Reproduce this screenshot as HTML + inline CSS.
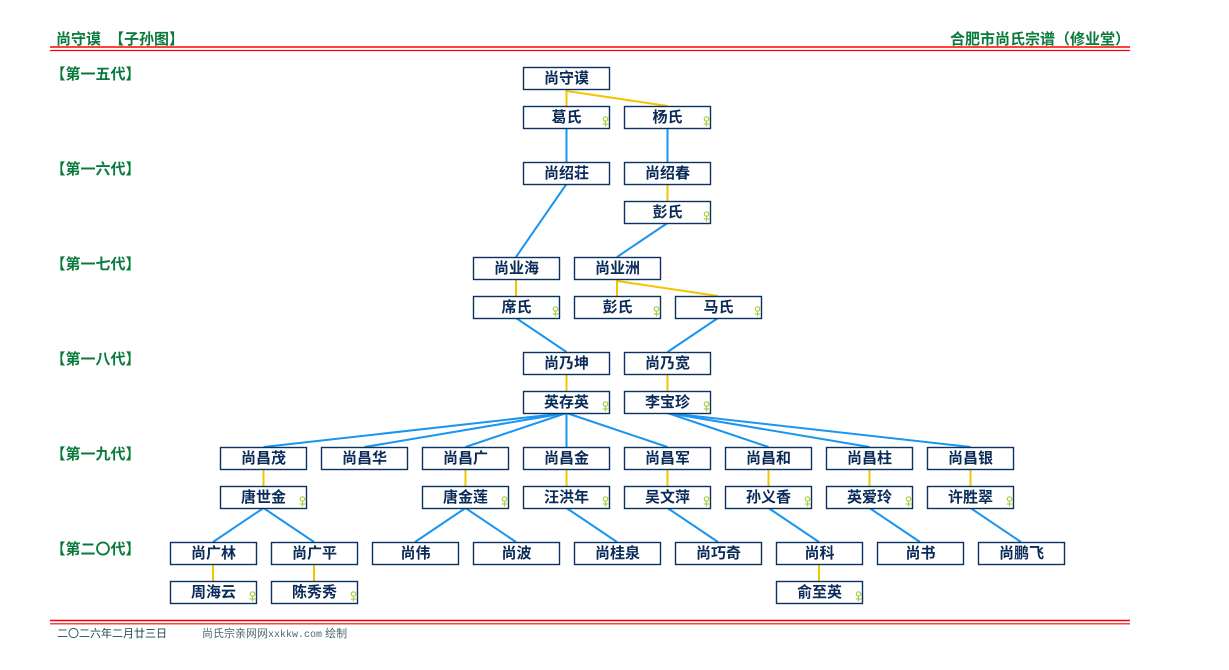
<!DOCTYPE html>
<html><head><meta charset="utf-8"><style>
html,body{margin:0;padding:0;background:#fff;}
svg{display:block;}
.nb{fill:#fff;stroke:#0a3160;stroke-width:1.4;}
.nt{font-family:"Liberation Sans","Noto Sans CJK SC",sans-serif;font-size:15px;font-weight:bold;fill:#0a2a58;text-anchor:middle;}
.gl{font-family:"Liberation Sans","Noto Sans CJK SC",sans-serif;font-size:15px;font-weight:bold;fill:#0a7a3c;text-anchor:middle;}
.hd{font-family:"Liberation Sans","Noto Sans CJK SC",sans-serif;font-size:15px;font-weight:bold;fill:#0a7a3c;}
.b{stroke:#1a96f0;stroke-width:2;fill:none;}
.y{stroke:#f5c400;stroke-width:2;fill:none;}
.fm{stroke:#a8d040;stroke-width:1.2;fill:none;}
</style></head><body>
<svg width="1229" height="670" viewBox="0 0 1229 670" xmlns="http://www.w3.org/2000/svg">
<!-- header -->
<text class="hd" x="56" y="44">尚守谟</text>
<text class="hd" x="109" y="44">【子孙图】</text>
<text class="hd" x="950" y="44">合肥市尚氏宗谱（修业堂）</text>
<line x1="50" y1="47" x2="1130" y2="47" stroke="#ff0000" stroke-width="1.5"/>
<line x1="50" y1="50.5" x2="1130" y2="50.5" stroke="#ff0000" stroke-width="1.2"/>
<!-- footer -->
<line x1="50" y1="620.5" x2="1130" y2="620.5" stroke="#ff0000" stroke-width="1.5"/>
<line x1="50" y1="623.8" x2="1130" y2="623.8" stroke="#ff0000" stroke-width="1.2"/>
<text x="57" y="637" font-family="Liberation Sans,Noto Sans CJK SC,sans-serif" font-size="11" fill="#1d4a40">二〇二六年二月廿三日</text>
<text x="202" y="637" font-family="Liberation Sans,Noto Sans CJK SC,sans-serif" font-size="11" fill="#4d6a70">尚氏宗亲网网<tspan font-family="Liberation Mono,monospace" font-size="10">xxkkw.com</tspan> 绘制</text>

<!-- generation labels -->
<text class="gl" x="95.5" y="79">【第一五代】</text>
<text class="gl" x="95.5" y="174">【第一六代】</text>
<text class="gl" x="95.5" y="269">【第一七代】</text>
<text class="gl" x="95.5" y="364">【第一八代】</text>
<text class="gl" x="95.5" y="459">【第一九代】</text>
<text class="gl" x="95.5" y="554">【第二〇代】</text>

<!-- connectors -->
<g>
<line class="y" x1="566.5" y1="89" x2="566.5" y2="106"/>
<polyline class="y" points="566.5,89 566.5,91 667.5,106"/>
<line class="b" x1="566.5" y1="128" x2="566.5" y2="162"/>
<line class="b" x1="667.5" y1="128" x2="667.5" y2="162"/>
<line class="y" x1="667.5" y1="184" x2="667.5" y2="201"/>
<line class="b" x1="566.5" y1="184" x2="516" y2="257"/>
<line class="b" x1="667.5" y1="223" x2="617" y2="257"/>
<line class="y" x1="516" y1="279" x2="516" y2="296"/>
<line class="y" x1="617" y1="279" x2="617" y2="296"/>
<polyline class="y" points="617,279 617,281 718,296"/>
<line class="b" x1="516" y1="318" x2="566.5" y2="352"/>
<line class="b" x1="718" y1="318" x2="667.5" y2="352"/>
<line class="y" x1="566.5" y1="374" x2="566.5" y2="391"/>
<line class="y" x1="667.5" y1="374" x2="667.5" y2="391"/>
<line class="b" x1="566.5" y1="413" x2="263.5" y2="447"/>
<line class="b" x1="566.5" y1="413" x2="364.5" y2="447"/>
<line class="b" x1="566.5" y1="413" x2="465.5" y2="447"/>
<line class="b" x1="566.5" y1="413" x2="566.5" y2="447"/>
<line class="b" x1="566.5" y1="413" x2="667.5" y2="447"/>
<line class="b" x1="667.5" y1="413" x2="768.5" y2="447"/>
<line class="b" x1="667.5" y1="413" x2="869.5" y2="447"/>
<line class="b" x1="667.5" y1="413" x2="970.5" y2="447"/>
<line class="y" x1="263.5" y1="469" x2="263.5" y2="486"/>
<line class="y" x1="465.5" y1="469" x2="465.5" y2="486"/>
<line class="y" x1="566.5" y1="469" x2="566.5" y2="486"/>
<line class="y" x1="667.5" y1="469" x2="667.5" y2="486"/>
<line class="y" x1="768.5" y1="469" x2="768.5" y2="486"/>
<line class="y" x1="869.5" y1="469" x2="869.5" y2="486"/>
<line class="y" x1="970.5" y1="469" x2="970.5" y2="486"/>
<line class="b" x1="263.5" y1="508" x2="213" y2="542"/>
<line class="b" x1="263.5" y1="508" x2="314" y2="542"/>
<line class="b" x1="465.5" y1="508" x2="415" y2="542"/>
<line class="b" x1="465.5" y1="508" x2="516" y2="542"/>
<line class="b" x1="566.5" y1="508" x2="617" y2="542"/>
<line class="b" x1="667.5" y1="508" x2="718" y2="542"/>
<line class="b" x1="768.5" y1="508" x2="819" y2="542"/>
<line class="b" x1="869.5" y1="508" x2="920" y2="542"/>
<line class="b" x1="970.5" y1="508" x2="1021" y2="542"/>
<line class="y" x1="213" y1="564" x2="213" y2="581"/>
<line class="y" x1="314" y1="564" x2="314" y2="581"/>
<line class="y" x1="819" y1="564" x2="819" y2="581"/>
</g>

<!-- nodes -->
<g>
<rect class="nb" x="523.5" y="67.5" width="86" height="22"/><text class="nt" x="566.5" y="83">尚守谟</text>
<rect class="nb" x="523.5" y="106.5" width="86" height="22"/><text class="nt" x="566.5" y="122">葛氏</text>
<rect class="nb" x="624.5" y="106.5" width="86" height="22"/><text class="nt" x="667.5" y="122">杨氏</text>
<rect class="nb" x="523.5" y="162.5" width="86" height="22"/><text class="nt" x="566.5" y="178">尚绍荘</text>
<rect class="nb" x="624.5" y="162.5" width="86" height="22"/><text class="nt" x="667.5" y="178">尚绍春</text>
<rect class="nb" x="624.5" y="201.5" width="86" height="22"/><text class="nt" x="667.5" y="217">彭氏</text>
<rect class="nb" x="473.5" y="257.5" width="86" height="22"/><text class="nt" x="516.5" y="273">尚业海</text>
<rect class="nb" x="574.5" y="257.5" width="86" height="22"/><text class="nt" x="617.5" y="273">尚业洲</text>
<rect class="nb" x="473.5" y="296.5" width="86" height="22"/><text class="nt" x="516.5" y="312">席氏</text>
<rect class="nb" x="574.5" y="296.5" width="86" height="22"/><text class="nt" x="617.5" y="312">彭氏</text>
<rect class="nb" x="675.5" y="296.5" width="86" height="22"/><text class="nt" x="718.5" y="312">马氏</text>
<rect class="nb" x="523.5" y="352.5" width="86" height="22"/><text class="nt" x="566.5" y="368">尚乃坤</text>
<rect class="nb" x="624.5" y="352.5" width="86" height="22"/><text class="nt" x="667.5" y="368">尚乃宽</text>
<rect class="nb" x="523.5" y="391.5" width="86" height="22"/><text class="nt" x="566.5" y="407">英存英</text>
<rect class="nb" x="624.5" y="391.5" width="86" height="22"/><text class="nt" x="667.5" y="407">李宝珍</text>
<rect class="nb" x="220.5" y="447.5" width="86" height="22"/><text class="nt" x="263.5" y="463">尚昌茂</text>
<rect class="nb" x="321.5" y="447.5" width="86" height="22"/><text class="nt" x="364.5" y="463">尚昌华</text>
<rect class="nb" x="422.5" y="447.5" width="86" height="22"/><text class="nt" x="465.5" y="463">尚昌广</text>
<rect class="nb" x="523.5" y="447.5" width="86" height="22"/><text class="nt" x="566.5" y="463">尚昌金</text>
<rect class="nb" x="624.5" y="447.5" width="86" height="22"/><text class="nt" x="667.5" y="463">尚昌军</text>
<rect class="nb" x="725.5" y="447.5" width="86" height="22"/><text class="nt" x="768.5" y="463">尚昌和</text>
<rect class="nb" x="826.5" y="447.5" width="86" height="22"/><text class="nt" x="869.5" y="463">尚昌柱</text>
<rect class="nb" x="927.5" y="447.5" width="86" height="22"/><text class="nt" x="970.5" y="463">尚昌银</text>
<rect class="nb" x="220.5" y="486.5" width="86" height="22"/><text class="nt" x="263.5" y="502">唐世金</text>
<rect class="nb" x="422.5" y="486.5" width="86" height="22"/><text class="nt" x="465.5" y="502">唐金莲</text>
<rect class="nb" x="523.5" y="486.5" width="86" height="22"/><text class="nt" x="566.5" y="502">汪洪年</text>
<rect class="nb" x="624.5" y="486.5" width="86" height="22"/><text class="nt" x="667.5" y="502">吴文萍</text>
<rect class="nb" x="725.5" y="486.5" width="86" height="22"/><text class="nt" x="768.5" y="502">孙义香</text>
<rect class="nb" x="826.5" y="486.5" width="86" height="22"/><text class="nt" x="869.5" y="502">英爱玲</text>
<rect class="nb" x="927.5" y="486.5" width="86" height="22"/><text class="nt" x="970.5" y="502">许胜翠</text>
<rect class="nb" x="170.5" y="542.5" width="86" height="22"/><text class="nt" x="213.5" y="558">尚广林</text>
<rect class="nb" x="271.5" y="542.5" width="86" height="22"/><text class="nt" x="314.5" y="558">尚广平</text>
<rect class="nb" x="372.5" y="542.5" width="86" height="22"/><text class="nt" x="415.5" y="558">尚伟</text>
<rect class="nb" x="473.5" y="542.5" width="86" height="22"/><text class="nt" x="516.5" y="558">尚波</text>
<rect class="nb" x="574.5" y="542.5" width="86" height="22"/><text class="nt" x="617.5" y="558">尚桂泉</text>
<rect class="nb" x="675.5" y="542.5" width="86" height="22"/><text class="nt" x="718.5" y="558">尚巧奇</text>
<rect class="nb" x="776.5" y="542.5" width="86" height="22"/><text class="nt" x="819.5" y="558">尚科</text>
<rect class="nb" x="877.5" y="542.5" width="86" height="22"/><text class="nt" x="920.5" y="558">尚书</text>
<rect class="nb" x="978.5" y="542.5" width="86" height="22"/><text class="nt" x="1021.5" y="558">尚鹏飞</text>
<rect class="nb" x="170.5" y="581.5" width="86" height="22"/><text class="nt" x="213.5" y="597">周海云</text>
<rect class="nb" x="271.5" y="581.5" width="86" height="22"/><text class="nt" x="314.5" y="597">陈秀秀</text>
<rect class="nb" x="776.5" y="581.5" width="86" height="22"/><text class="nt" x="819.5" y="597">俞至英</text>
</g>

<!-- female markers -->
<defs>
<g id="fm"><circle class="fm" cx="0" cy="-5" r="2.2"/><line class="fm" x1="0" y1="-2.8" x2="0" y2="2.5"/><line class="fm" x1="-2.8" y1="0" x2="2.8" y2="0"/></g>
</defs>
<use href="#fm" x="605.5" y="124"/>
<use href="#fm" x="706.5" y="124"/>
<use href="#fm" x="706.5" y="219"/>
<use href="#fm" x="555.5" y="314"/>
<use href="#fm" x="656.5" y="314"/>
<use href="#fm" x="757.5" y="314"/>
<use href="#fm" x="605.5" y="409"/>
<use href="#fm" x="706.5" y="409"/>
<use href="#fm" x="302.5" y="504"/>
<use href="#fm" x="504.5" y="504"/>
<use href="#fm" x="605.5" y="504"/>
<use href="#fm" x="706.5" y="504"/>
<use href="#fm" x="807.5" y="504"/>
<use href="#fm" x="908.5" y="504"/>
<use href="#fm" x="1009.5" y="504"/>
<use href="#fm" x="252.5" y="599"/>
<use href="#fm" x="353.5" y="599"/>
<use href="#fm" x="858.5" y="599"/>
</svg>
</body></html>
